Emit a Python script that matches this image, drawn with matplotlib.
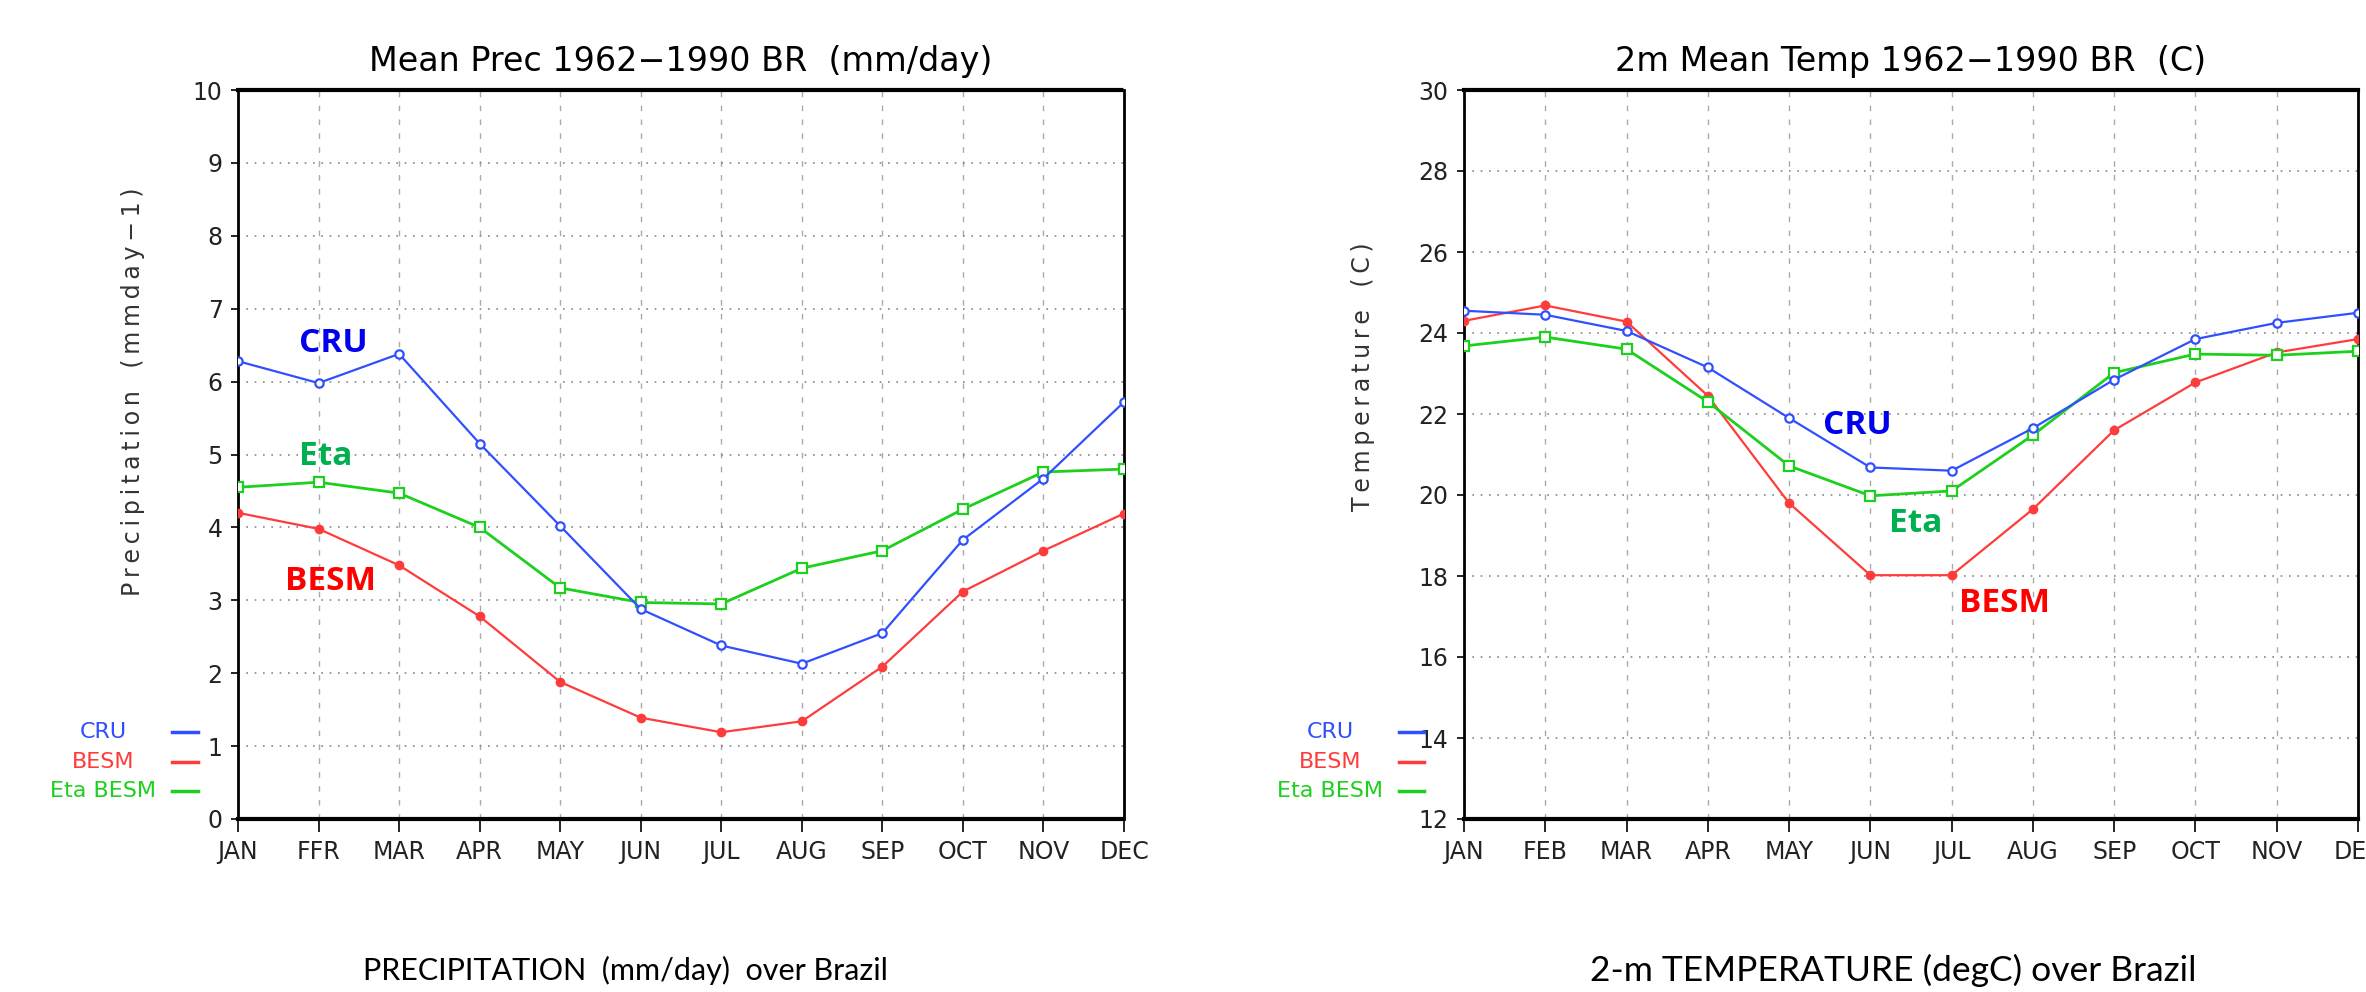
import matplotlib
matplotlib.use('Agg')
import matplotlib.pyplot as plt
from matplotlib.lines import Line2D

plt.rcParams['font.family'] = ['DejaVu Sans']

months = ['JAN', 'FEB', 'MAR', 'APR', 'MAY', 'JUN', 'JUL', 'AUG', 'SEP', 'OCT', 'NOV', 'DEC']
prec_months = ['JAN', 'FFR', 'MAR', 'APR', 'MAY', 'JUN', 'JUL', 'AUG', 'SEP', 'OCT', 'NOV', 'DEC']

# 降水 (mm/day)
prec_cru = [6.28, 5.98, 6.38, 5.15, 4.02, 2.88, 2.38, 2.13, 2.55, 3.83, 4.67, 5.72]
prec_besm = [4.20, 3.98, 3.48, 2.78, 1.88, 1.39, 1.19, 1.34, 2.09, 3.12, 3.68, 4.19]
prec_eta = [4.55, 4.62, 4.47, 4.00, 3.17, 2.97, 2.95, 3.44, 3.68, 4.25, 4.76, 4.80]

# 温度 (C)
temp_cru = [24.55, 24.45, 24.05, 23.15, 21.90, 20.68, 20.60, 21.65, 22.85, 23.85, 24.25, 24.50]
temp_besm = [24.30, 24.68, 24.28, 22.45, 19.80, 18.02, 18.02, 19.65, 21.60, 22.78, 23.52, 23.85]
temp_eta = [23.68, 23.90, 23.60, 22.30, 20.72, 19.98, 20.10, 21.48, 23.02, 23.48, 23.45, 23.55]

C_CRU = '#3050ff'
C_BESM = '#ff3c3c'
C_ETA = '#1ed01e'

W, H = 2366, 992
fig = plt.figure(figsize=(W / 100, H / 100), dpi=100)


# 字母间加细空格，模仿 GrADS 的宽字距
def spaced(s):
    return '   '.join('\u2009'.join(word) for word in s.split())


def make_panel(rect, cru, besm, eta, ylim, yticks, title, ylabel, ylabel_xy,
               caption, caption_x, caption_size, legend_x, notes, month_labels):
    ax = fig.add_axes(rect)
    x = range(len(months))
    ax.plot(x, cru, color=C_CRU, lw=1.6, marker='o', ms=6, mfc='white', mec=C_CRU, mew=1.6, zorder=4)
    ax.plot(x, besm, color=C_BESM, lw=1.6, marker='o', ms=6, mfc=C_BESM, mec=C_BESM, zorder=3)
    ax.plot(x, eta, color=C_ETA, lw=2.0, marker='s', ms=7, mfc='white', mec=C_ETA, mew=1.6, zorder=3)

    ax.set_xlim(0, 11)
    ax.set_ylim(*ylim)
    ax.set_xticks(list(x))
    ax.set_xticklabels(month_labels, fontsize=17, color='#222222')
    ax.set_yticks(yticks)
    ax.set_yticklabels([str(v) for v in yticks], fontsize=17, color='#222222')
    ax.tick_params(axis='both', direction='out', length=9, width=1.2, color='black', pad=6)
    ax.tick_params(axis='y', length=5)

    ax.grid(axis='y', linestyle=(0, (1, 4)), color='#888888', lw=1.2)
    ax.grid(axis='x', linestyle=(0, (4, 6)), color='#aaaaaa', lw=1.0)
    for s in ['left', 'right']:
        ax.spines[s].set_linewidth(2)
    for s in ['top', 'bottom']:
        ax.spines[s].set_linewidth(3)
        ax.spines[s].set_linestyle((0, (2, 1)))

    ax.set_title(title, fontsize=24, pad=14)
    fig.text(ylabel_xy[0] / W, 1 - ylabel_xy[1] / H, spaced(ylabel), rotation=90, fontsize=17,
             color='#333333', ha='center', va='center')

    fig.text(caption_x / W, 1 - 970 / H, caption, fontsize=caption_size,
             family=['Lato', 'DejaVu Sans'], ha='center', va='center')

    # 图例
    lx_text, lx0, lx1 = legend_x
    for name, color, ypix in [('CRU', C_CRU, 732), ('BESM', C_BESM, 762), ('Eta BESM', C_ETA, 791)]:
        y = 1 - ypix / H
        fig.text(lx_text / W, y, name, color=color, fontsize=16, ha='center', va='center')
        fig.add_artist(Line2D([lx0 / W, lx1 / W], [y, y], color=color, lw=2.5))

    for text, color, xd, yd in notes:
        ax.text(xd, yd, text, color=color, fontsize=24, fontweight='bold',
                family=['Open Sans', 'DejaVu Sans'], ha='left', va='center', zorder=6)
    return ax


left_rect = [238 / W, 1 - 819 / H, (1124 - 238) / W, (819 - 90) / H]
right_rect = [1464 / W, 1 - 819 / H, (2358 - 1464) / W, (819 - 90) / H]

make_panel(left_rect, prec_cru, prec_besm, prec_eta, (0, 10), list(range(0, 11)),
           'Mean Prec 1962\u22121990 BR  (mm/day)', 'Precipitation (mmday\u22121)', (133, 392),
           'PRECIPITATION  (mm/day)  over Brazil', 625, 22, (103, 172, 198),
           [('CRU', '#0000ee', 0.76, 6.52), ('Eta', '#00b050', 0.76, 4.97), ('BESM', '#ff0000', 0.58, 3.26)],
           prec_months)

make_panel(right_rect, temp_cru, temp_besm, temp_eta, (12, 30), list(range(12, 31, 2)),
           '2m Mean Temp 1962\u22121990 BR  (C)', 'Temperature (C)', (1363, 377),
           '2-m TEMPERATURE (degC) over Brazil', 1893, 25.5, (1330, 1399, 1424),
           [('CRU', '#0000ee', 4.42, 21.71), ('Eta', '#00b050', 5.23, 19.29), ('BESM', '#ff0000', 6.09, 17.32)],
           months)

plt.savefig('out.png', dpi=100)
plt.close('all')
